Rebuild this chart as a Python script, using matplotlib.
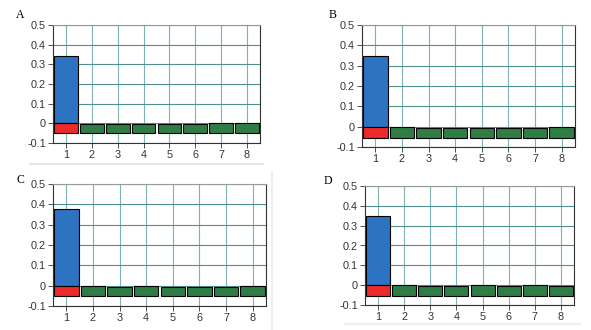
import numpy as np
import matplotlib.pyplot as plt
from matplotlib.lines import Line2D

# categories on the x axis
categories = [1, 2, 3, 4, 5, 6, 7, 8]
panel_labels = ['A', 'B', 'C', 'D']

# blue (positive) bar for category 1, red (negative) bar for category 1
blue_values = [0.342, 0.346, 0.375, 0.351]
red_values = [-0.05, -0.055, -0.053, -0.055]

# green bars for categories 2-8: bottom and top of each bar
green_bottom = [-0.05, -0.055, -0.053, -0.055]
green_tops = [
    [-0.003, -0.003, -0.003, -0.003, -0.003, 0.003, 0.003],
    [0.0, -0.006, -0.006, -0.006, -0.006, -0.006, 0.0],
    [0.0, -0.005, 0.0, -0.005, -0.005, -0.005, 0.0],
    [0.003, -0.003, -0.003, 0.003, -0.003, 0.003, -0.003],
]

yticks = [-0.1, 0, 0.1, 0.2, 0.3, 0.4, 0.5]
ytick_labels = ['-0.1', '0', '0.1', '0.2', '0.3', '0.4', '0.5']

# axes boxes in pixels: left, right, top, bottom
W, H = 591, 330
boxes = [(53, 260, 25, 143), (362, 575, 25, 147),
         (53, 266, 184, 306), (365, 574, 186, 305)]
label_pos = [(20, 15), (333, 15), (20, 180), (328, 181)]

fig = plt.figure(figsize=(W / 100, H / 100), dpi=100)
plt.rcParams['font.family'] = ['Liberation Sans', 'DejaVu Sans']

for i in range(4):
    l, r, t, b = boxes[i]
    ax = fig.add_axes([l / W, 1 - b / H, (r - l) / W, (b - t) / H])
    ax.set_xlim(0.5, 8.5)
    ax.set_ylim(-0.1, 0.5)
    ax.set_axisbelow(True)
    ax.grid(True, color='#4f8f8f', linewidth=0.8)
    ax.xaxis.grid(True, color='#7fb3b3', linewidth=0.8)

    w = 0.92
    ax.bar(categories[0], blue_values[i], width=w, color='#2e72c2',
           edgecolor='black', linewidth=0.8)
    ax.bar(categories[0], red_values[i], width=w, color='#ec2a2a',
           edgecolor='black', linewidth=0.8)
    tops = np.array(green_tops[i])
    ax.bar(categories[1:], tops - green_bottom[i], bottom=green_bottom[i],
           width=w, color='#2f7d45', edgecolor='black', linewidth=0.8)

    ax.set_xticks(categories)
    ax.set_yticks(yticks)
    ax.set_yticklabels(ytick_labels)
    ax.tick_params(labelsize=7.8, colors='#333333', length=3.5, width=0.6, pad=1.5)
    for side in ['left', 'bottom', 'right']:
        ax.spines[side].set_color('#333333')
        ax.spines[side].set_linewidth(0.8)
    ax.spines['top'].set_color('#999999')
    ax.spines['top'].set_linewidth(0.8)

    fig.text(label_pos[i][0] / W, 1 - label_pos[i][1] / H, panel_labels[i],
             fontsize=8.5, family='Liberation Serif', ha='center', va='center')

# faint separator lines from the original composite figure
fig.add_artist(Line2D([30 / W, 263 / W], [1 - 164 / H] * 2, color='#e6e6e6', lw=1.5))
fig.add_artist(Line2D([272 / W] * 2, [1 - 172 / H, 0], color='#ececec', lw=1.2))
fig.add_artist(Line2D([345 / W, 580 / W], [1 - 324 / H] * 2, color='#ececec', lw=1.2))

fig.savefig('out.png', dpi=100)
